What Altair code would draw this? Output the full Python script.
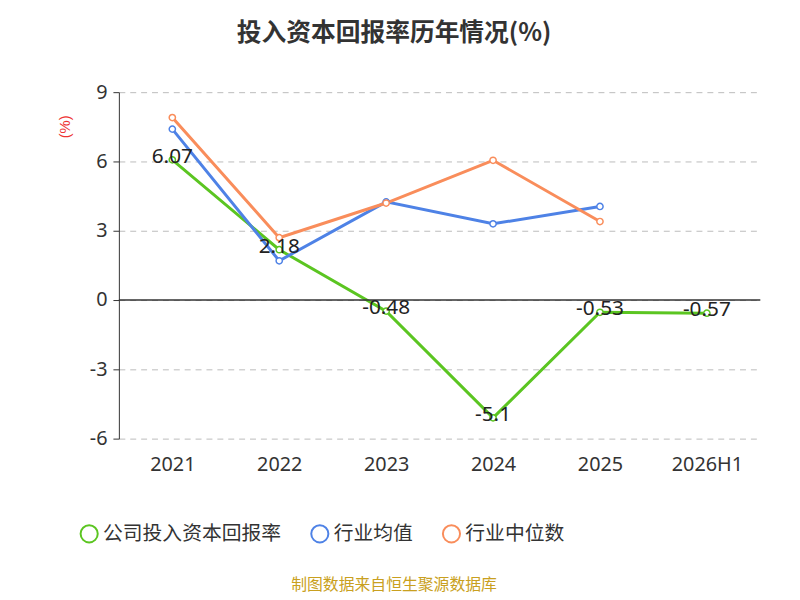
import altair as alt
import pandas as pd

years = ["2021", "2022", "2023", "2024", "2025", "2026H1"]
company = [6.07, 2.18, -0.48, -5.1, -0.53, -0.57]
ind_mean = [7.4, 1.7, 4.25, 3.3, 4.05, None]
ind_median = [7.9, 2.7, 4.2, 6.05, 3.4, None]
series = ["公司投入资本回报率", "行业均值", "行业中位数"]
colors = ["#5bc521", "#4e82e6", "#f98d5b"]

rows = []
for name, vals in zip(series, [company, ind_mean, ind_median]):
    for y, v in zip(years, vals):
        if v is not None:
            rows.append({"year": y, "value": v, "series": name})
df = pd.DataFrame(rows)
lab = pd.DataFrame({"year": years, "value": company, "txt": [str(v) for v in company]})

x = alt.X("year:N", sort=years, title=None,
          scale=alt.Scale(paddingInner=0, paddingOuter=0),
          axis=alt.Axis(labelAngle=0, domain=False, ticks=False, labelFontSize=20,
                        labelColor="#333", labelPadding=16, labelFont="Noto Sans"))
y = alt.Y("value:Q", title=None, scale=alt.Scale(domain=[-6, 9], nice=False),
          axis=alt.Axis(values=[-6, -3, 0, 3, 6, 9], gridDash=[6, 5], gridColor="#bbb",
                        domainColor="#333", tickColor="#333", labelFontSize=20,
                        labelColor="#333", labelFont="Noto Sans", tickSize=6, labelPadding=6,
                        labelExpr="replace(datum.label, '−', '-')"))
cscale = alt.Scale(domain=series, range=colors)
stroke = alt.Stroke("series:N", sort=series, scale=cscale,
                    legend=alt.Legend(orient="none", legendX=-40, legendY=436, direction="horizontal",
                                      title=None, symbolType="circle", symbolFillColor="white",
                                      symbolStrokeWidth=2, symbolSize=300, labelFontSize=20,
                                      labelLimit=300, labelFont="Noto Sans CJK SC",
                                      labelColor="#333", columnPadding=26))

lines = alt.Chart(df).mark_line(strokeWidth=3).encode(x=x, y=y, stroke=stroke)
points = alt.Chart(df).mark_point(filled=False, fill="white", fillOpacity=1, size=40,
                                  strokeWidth=1.5, opacity=1).encode(
    x=x, y=y, stroke=alt.Stroke("series:N", scale=cscale, legend=None))
zero = alt.Chart(pd.DataFrame({"v": [0]})).mark_rule(color="#333", strokeWidth=1.5).encode(y="v:Q")
texts = alt.Chart(lab).mark_text(fontSize=21, font="Noto Sans", color="#222", dy=-3).encode(
    x=x, y=y, text="txt:N")
title = alt.Chart(pd.DataFrame({"t": ["投入资本回报率历年情况(%)"]})).mark_text(
    fontSize=25, fontWeight="bold", font="Noto Sans CJK SC", color="#333").encode(
    x=alt.value(278), y=alt.value(-60), text="t:N")
unit = alt.Chart(pd.DataFrame({"t": ["(%)"]})).mark_text(
    fontSize=15, color="#e33", angle=270).encode(x=alt.value(-54), y=alt.value(35), text="t:N")
src = alt.Chart(pd.DataFrame({"t": ["制图数据来自恒生聚源数据库"]})).mark_text(
    fontSize=16, color="#c9a020", font="Noto Sans CJK SC").encode(
    x=alt.value(278), y=alt.value(498), text="t:N")

chart = (lines + zero + points + texts + title + unit + src).properties(
    width=648, height=350, autosize="none",
    padding={"left": 112, "top": 82, "right": 32, "bottom": 160},
).configure_view(stroke=None).configure_axisY(grid=True).configure_axisX(grid=False)

chart.save("out.html", embed_options={"renderer": "svg", "actions": False})
